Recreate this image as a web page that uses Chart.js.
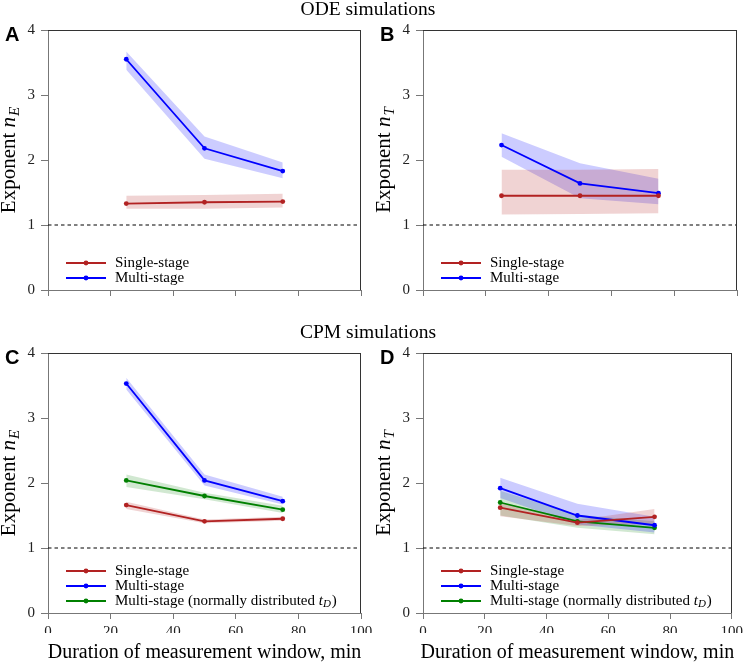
<!DOCTYPE html>
<html><head><meta charset="utf-8">
<script src="https://cdn.jsdelivr.net/npm/chart.js@4/dist/chart.umd.min.js"></script>
<style>
html,body{margin:0;padding:0;background:#fff;}
#wrap{position:relative;width:747px;height:662px;overflow:hidden;}
canvas{position:absolute;left:0;top:0;}
</style></head><body>
<div id="wrap">
<canvas id="cA" width="747" height="662"></canvas>
<canvas id="cB" width="747" height="662"></canvas>
<canvas id="cC" width="747" height="662"></canvas>
<canvas id="cD" width="747" height="662"></canvas>
</div>
<script>
// ---- data ----
const xWindow = [25, 50, 75];           // duration of measurement window, min
const xTicks = [0, 20, 40, 60, 80, 100];
const yTicks = [0, 1, 2, 3, 4];
const refLevel = 1;

// A: ODE simulations, exponent n_E
const odeNE_single   = [1.33, 1.35, 1.36];
const odeNE_singleLo = [1.25, 1.25, 1.27];
const odeNE_singleHi = [1.45, 1.46, 1.48];
const odeNE_multi    = [3.55, 2.18, 1.83];
const odeNE_multiLo  = [3.39, 2.02, 1.72];
const odeNE_multiHi  = [3.67, 2.36, 1.96];

// B: ODE simulations, exponent n_T
const odeNT_single   = [1.45, 1.45, 1.45];
const odeNT_singleLo = [1.16, 1.17, 1.18];
const odeNT_singleHi = [1.85, 1.85, 1.86];
const odeNT_multi    = [2.23, 1.64, 1.49];
const odeNT_multiLo  = [2.05, 1.41, 1.32];
const odeNT_multiHi  = [2.41, 1.95, 1.71];

// C: CPM simulations, exponent n_E
const cpmNE_single   = [1.66, 1.41, 1.45];
const cpmNE_singleLo = [1.60, 1.38, 1.42];
const cpmNE_singleHi = [1.71, 1.44, 1.48];
const cpmNE_multi    = [3.53, 2.04, 1.72];
const cpmNE_multiLo  = [3.44, 1.96, 1.67];
const cpmNE_multiHi  = [3.62, 2.13, 1.79];
const cpmNE_normal   = [2.04, 1.80, 1.59];
const cpmNE_normalLo = [1.94, 1.75, 1.54];
const cpmNE_normalHi = [2.13, 1.85, 1.65];

// D: CPM simulations, exponent n_T
const cpmNT_single   = [1.62, 1.39, 1.48];
const cpmNT_singleLo = [1.49, 1.34, 1.37];
const cpmNT_singleHi = [1.70, 1.43, 1.60];
const cpmNT_multi    = [1.92, 1.50, 1.35];
const cpmNT_multiLo  = [1.77, 1.36, 1.24];
const cpmNT_multiHi  = [2.08, 1.68, 1.48];
const cpmNT_normal   = [1.70, 1.41, 1.31];
const cpmNT_normalLo = [1.50, 1.31, 1.21];
const cpmNT_normalHi = [1.88, 1.51, 1.41];

const seriesLabels = ['Single-stage', 'Multi-stage', 'Multi-stage (normally distributed '];
const yTitleE = ['Exponent ', 'n', 'E'];
const yTitleT = ['Exponent ', 'n', 'T'];
const xTitle = 'Duration of measurement window, min';
const titleODE = 'ODE simulations';
const titleCPM = 'CPM simulations';

// ---- styles ----
const FONT = '"Liberation Serif", "Times New Roman", serif';
const SANS = '"Liberation Sans", Arial, sans-serif';
const RED = '#b22222', RED_BAND = 'rgba(178,34,34,0.2)';
const BLUE = '#0000ff', BLUE_BAND = 'rgba(0,0,255,0.2)';
const GREEN = '#008000', GREEN_BAND = 'rgba(0,128,0,0.18)';

function pts(arr){ return xWindow.map((x,i)=>({x:x, y:arr[i]})); }

const panels = [
  { id:'cA', letter:'A', area:{l:48,t:30,r:361,b:290}, showX:false, yTitle:yTitleE, title:titleODE,
    series:[
      {label:seriesLabels[0], color:RED, band:RED_BAND, mean:odeNE_single, lo:odeNE_singleLo, hi:odeNE_singleHi},
      {label:seriesLabels[1], color:BLUE, band:BLUE_BAND, mean:odeNE_multi, lo:odeNE_multiLo, hi:odeNE_multiHi}
    ]},
  { id:'cB', letter:'B', area:{l:423,t:30,r:737,b:290}, showX:false, yTitle:yTitleT,
    series:[
      {label:seriesLabels[0], color:RED, band:RED_BAND, mean:odeNT_single, lo:odeNT_singleLo, hi:odeNT_singleHi},
      {label:seriesLabels[1], color:BLUE, band:BLUE_BAND, mean:odeNT_multi, lo:odeNT_multiLo, hi:odeNT_multiHi}
    ]},
  { id:'cC', letter:'C', area:{l:48,t:353,r:361,b:613}, showX:true, yTitle:yTitleE, title:titleCPM,
    series:[
      {label:seriesLabels[0], color:RED, band:RED_BAND, mean:cpmNE_single, lo:cpmNE_singleLo, hi:cpmNE_singleHi},
      {label:seriesLabels[1], color:BLUE, band:BLUE_BAND, mean:cpmNE_multi, lo:cpmNE_multiLo, hi:cpmNE_multiHi},
      {label:seriesLabels[2], sub:true, color:GREEN, band:GREEN_BAND, mean:cpmNE_normal, lo:cpmNE_normalLo, hi:cpmNE_normalHi}
    ]},
  { id:'cD', letter:'D', area:{l:423,t:353,r:737,b:613}, showX:true, yTitle:yTitleT,
    series:[
      {label:seriesLabels[0], color:RED, band:RED_BAND, mean:cpmNT_single, lo:cpmNT_singleLo, hi:cpmNT_singleHi},
      {label:seriesLabels[1], color:BLUE, band:BLUE_BAND, mean:cpmNT_multi, lo:cpmNT_multiLo, hi:cpmNT_multiHi},
      {label:seriesLabels[2], sub:true, color:GREEN, band:GREEN_BAND, mean:cpmNT_normal, lo:cpmNT_normalLo, hi:cpmNT_normalHi}
    ]}
];

function buildDatasets(series){
  const ds = [];
  ds.push({ data:[{x:xTicks[0],y:refLevel},{x:xTicks[xTicks.length-1],y:refLevel}], borderColor:'#000', borderWidth:1,
            borderDash:[3.5,3], pointRadius:0, fill:false, order:10 });
  series.forEach(s=>{
    ds.push({ data:pts(s.hi), borderWidth:0, borderColor:'rgba(0,0,0,0)', pointRadius:0, fill:false, order:5 });
    ds.push({ data:pts(s.lo), borderWidth:0, borderColor:'rgba(0,0,0,0)', pointRadius:0, fill:'-1', backgroundColor:s.band, order:5 });
  });
  series.forEach((s,i)=>{
    ds.push({ data:pts(s.mean), borderColor:s.color, backgroundColor:s.color, borderWidth:1.8,
              pointRadius:2.4, pointBorderWidth:0, pointBackgroundColor:s.color, fill:false, order:1+i*0.01 });
  });
  return ds;
}

const decoPlugin = {
  id:'deco',
  afterDraw(chart, args, opts){
    const p = opts.panel;
    const ctx = chart.ctx;
    const a = chart.chartArea;
    ctx.save();
    // top & right spines
    ctx.strokeStyle = '#333'; ctx.lineWidth = 1;
    ctx.beginPath();
    const tY = Math.round(a.top)+0.5, rX = Math.round(a.right)-0.5;
    ctx.moveTo(a.left, tY); ctx.lineTo(a.right, tY);
    ctx.moveTo(rX, a.top); ctx.lineTo(rX, a.bottom);
    ctx.stroke();
    ctx.fillStyle = '#000';
    // panel letter
    ctx.font = 'bold 20px ' + SANS;
    ctx.textBaseline = 'alphabetic'; ctx.textAlign = 'left';
    ctx.fillText(p.letter, a.left - 43, a.top + 11);
    // row title
    if (p.title){
      ctx.font = '19.5px ' + FONT; ctx.textAlign = 'center';
      ctx.fillText(p.title, 368, a.top - 15.5);
    }
    // x title
    if (p.showX){
      ctx.font = '20px ' + FONT; ctx.textAlign = 'center';
      ctx.fillText(xTitle, (a.left + a.right)/2, a.bottom + 45);
    }
    // y title (rotated, with italic subscript)
    ctx.save();
    ctx.translate(a.left - 33, (a.top + a.bottom)/2);
    ctx.rotate(-Math.PI/2);
    ctx.textAlign = 'left';
    const [m, v, s] = p.yTitle;
    ctx.font = '21px ' + FONT; const w1 = ctx.measureText(m).width;
    ctx.font = 'italic 21px ' + FONT; const w2 = ctx.measureText(v).width;
    ctx.font = 'italic 15px ' + FONT; const w3 = ctx.measureText(s).width;
    let x = -(w1 + w2 + w3 + 1)/2;
    ctx.font = '21px ' + FONT; ctx.fillText(m, x, 0); x += w1;
    ctx.font = 'italic 21px ' + FONT; ctx.fillText(v, x, 0); x += w2 + 1;
    ctx.font = 'italic 15px ' + FONT; ctx.fillText(s, x, 4);
    ctx.restore();
    // legend
    const n = p.series.length;
    p.series.forEach((sr, i)=>{
      const y = a.bottom - 12 - (n-1-i)*15;
      ctx.strokeStyle = sr.color; ctx.lineWidth = 1.8;
      ctx.beginPath(); ctx.moveTo(a.left + 18, y); ctx.lineTo(a.left + 58, y); ctx.stroke();
      ctx.fillStyle = sr.color;
      ctx.beginPath(); ctx.arc(a.left + 38, y, 2.4, 0, Math.PI*2); ctx.fill();
      ctx.fillStyle = '#000'; ctx.textBaseline = 'middle'; ctx.textAlign = 'left';
      ctx.font = '15px ' + FONT;
      let tx = a.left + 67;
      ctx.fillText(sr.label, tx, y);
      if (sr.sub){
        tx += ctx.measureText(sr.label).width;
        ctx.font = 'italic 15px ' + FONT; ctx.fillText('t', tx, y); tx += ctx.measureText('t').width;
        ctx.font = 'italic 11px ' + FONT; ctx.fillText('D', tx, y + 3.5); tx += ctx.measureText('D').width + 1;
        ctx.font = '15px ' + FONT; ctx.fillText(')', tx, y);
      }
    });
    ctx.restore();
  }
};

panels.forEach(p=>{
  const a = p.area;
  new Chart(document.getElementById(p.id), {
    type:'line',
    data:{ datasets: buildDatasets(p.series) },
    plugins:[decoPlugin],
    options:{
      responsive:false, animation:false, devicePixelRatio:1,
      layout:{ padding:{ left:a.l - 40, right:747 - a.r, top:a.t, bottom:662 - a.b - 20 } },
      plugins:{ legend:{display:false}, tooltip:{enabled:false}, deco:{ panel:p } },
      scales:{
        x:{ type:'linear', min:xTicks[0], max:xTicks[xTicks.length-1],
            afterBuildTicks:(s)=>{ s.ticks = xTicks.map(v=>({value:v})); },
            ticks:{ display:p.showX, font:{family:FONT, size:15}, color:'#222', padding:4, maxRotation:0, autoSkip:false },
            grid:{ drawOnChartArea:false, tickLength:6, color:'#777', lineWidth:1 },
            border:{ display:true, color:'#777', width:1 },
            afterFit:(s)=>{ s.height = 20; } },
        y:{ type:'linear', min:yTicks[0], max:yTicks[yTicks.length-1],
            afterBuildTicks:(s)=>{ s.ticks = yTicks.map(v=>({value:v})); },
            ticks:{ font:{family:FONT, size:15}, color:'#222', padding:6, autoSkip:false },
            grid:{ drawOnChartArea:false, tickLength:7, color:'#777', lineWidth:1 },
            border:{ display:true, color:'#777', width:1 },
            afterFit:(s)=>{ s.width = 40; } }
      }
    }
  });
});
</script>
</body></html>
